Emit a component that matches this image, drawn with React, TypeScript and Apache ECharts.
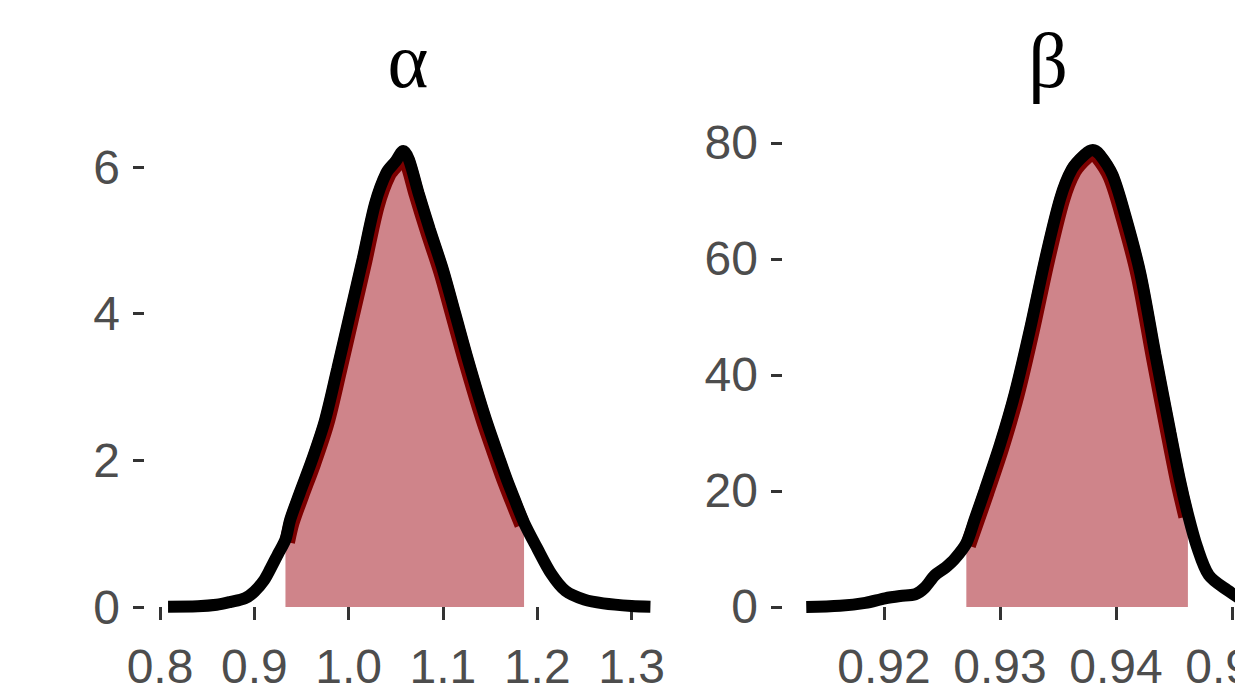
import React, { useEffect, useRef } from "react";
import * as echarts from "echarts";

// α posterior density (x, density)
const alphaX = [0.8085, 0.84, 0.86, 0.875, 0.89, 0.9, 0.91, 0.917, 0.925, 0.933, 0.938, 0.948, 0.961, 0.975, 0.988, 1.0015, 1.015, 1.028, 1.04, 1.05, 1.058, 1.064, 1.074, 1.086, 1.1, 1.113, 1.127, 1.1445, 1.1605, 1.168, 1.175, 1.186, 1.2, 1.215, 1.23, 1.25, 1.27, 1.3, 1.32];
const alphaY = [0.005, 0.01, 0.03, 0.07, 0.12, 0.21, 0.36, 0.52, 0.72, 0.92, 1.19, 1.55, 2.0, 2.55, 3.25, 4.0, 4.75, 5.5, 5.92, 6.08, 6.22, 6.1, 5.65, 5.15, 4.6, 4.0, 3.35, 2.6, 2.0, 1.73, 1.5, 1.15, 0.8, 0.45, 0.22, 0.1, 0.05, 0.015, 0.005];
const alphaInterval = [0.933, 1.186];

// β posterior density (x, density)
const betaX = [0.9133, 0.9162, 0.9184, 0.9201, 0.9214, 0.9227, 0.9235, 0.9244, 0.9253, 0.9261, 0.9271, 0.9278, 0.9287, 0.93, 0.9313, 0.9326, 0.9339, 0.9352, 0.9362, 0.9373, 0.938, 0.9386, 0.9397, 0.9408, 0.9421, 0.9434, 0.9447, 0.9455, 0.9462, 0.947, 0.948, 0.9496, 0.951, 0.953, 0.955];
const betaY = [0, 0.2, 0.7, 1.5, 1.9, 2.2, 3.3, 5.5, 6.8, 8.3, 11, 15, 20.2, 28, 37, 48, 60, 70.5, 75.5, 78, 78.8, 78, 74.5, 67.5, 57.5, 43.5, 30, 22, 16, 10.3, 5.5, 2.9, 1.2, 0.4, 0.1];
const betaInterval = [0.9271, 0.9462];

const alphaXTicks = [0.8, 0.9, 1.0, 1.1, 1.2, 1.3];
const alphaYTicks = [0, 2, 4, 6];
const betaXTicks = [0.92, 0.93, 0.94, 0.95];
const betaYTicks = [0, 20, 40, 60, 80];

const titles = ["α", "β"];

const FILL = "#cf848a";
const DARK = "#7c0000";
const LABEL = "#4d4d4d";
const FONT = "Liberation Sans, Arial, sans-serif";

function pairs(xs: number[], ys: number[]) {
  return xs.map((x, i) => [x, ys[i]]);
}

function panelSeries(xs: number[], ys: number[], iv: number[], idx: number) {
  const all = pairs(xs, ys);
  const inside = all.filter((p) => p[0] >= iv[0] - 1e-9 && p[0] <= iv[1] + 1e-9);
  let peak = 0;
  inside.forEach((p, i) => {
    if (p[1] > inside[peak][1]) peak = i;
  });
  const leftHalf = inside.slice(0, peak + 1);
  const rightHalf = inside.slice(peak);
  const base = { type: "line", xAxisIndex: idx, yAxisIndex: idx, symbol: "none", smooth: 0.3, silent: true };
  return [
    { ...base, data: inside, lineStyle: { width: 0, opacity: 0 }, areaStyle: { color: FILL, opacity: 1 } },
    { ...base, data: leftHalf, lineStyle: { color: DARK, width: 11, shadowColor: DARK, shadowBlur: 0, shadowOffsetX: 4, shadowOffsetY: 3 } },
    { ...base, data: rightHalf, lineStyle: { color: DARK, width: 11, shadowColor: DARK, shadowBlur: 0, shadowOffsetX: -4, shadowOffsetY: 3 } },
    { ...base, data: all, lineStyle: { color: "#000", width: 12 } },
  ];
}

function xAxis(idx: number, min: number, max: number, ticks: number[], digits: number) {
  return {
    type: "value", gridIndex: idx, min, max,
    axisLine: { show: false }, splitLine: { show: false },
    axisTick: { show: true, length: 13, customValues: ticks, lineStyle: { color: "#333", width: 3 } },
    axisLabel: { customValues: ticks, formatter: (v: number) => v.toFixed(digits), fontSize: 48, color: LABEL, fontFamily: FONT, margin: 12, hideOverlap: false },
  };
}

function yAxis(idx: number, min: number, max: number, ticks: number[]) {
  return {
    type: "value", gridIndex: idx, min, max,
    axisLine: { show: false }, splitLine: { show: false },
    axisTick: { show: true, length: 11, customValues: ticks, lineStyle: { color: "#333", width: 3 } },
    axisLabel: { customValues: ticks, formatter: (v: number) => String(v), fontSize: 48, color: LABEL, fontFamily: FONT, margin: 24 },
  };
}

export default function App() {
  const ref = useRef<HTMLDivElement>(null);
  useEffect(() => {
    if (!ref.current) return;
    const chart = echarts.init(ref.current, null, { renderer: "svg" });
    chart.setOption({
      animation: false,
      backgroundColor: "#fff",
      grid: [
        { left: 144, top: 128, width: 530, height: 502, outerBoundsMode: "none", containLabel: false },
        { left: 782, top: 128, width: 532, height: 502, outerBoundsMode: "none", containLabel: false },
      ],
      xAxis: [
        xAxis(0, 0.783, 1.345, alphaXTicks, 1),
        xAxis(1, 0.91121, 0.95707, betaXTicks, 2),
      ],
      yAxis: [
        yAxis(0, -0.3136, 6.532, alphaYTicks),
        yAxis(1, -3.966, 82.586, betaYTicks),
      ],
      graphic: [
        { type: "text", x: 408, y: 60, style: { text: titles[0], fontSize: 78, fontFamily: "Liberation Serif, serif", fill: "#000", align: "center", verticalAlign: "middle" } },
        { type: "text", x: 1048, y: 60, style: { text: titles[1], fontSize: 78, fontFamily: "Liberation Serif, serif", fill: "#000", align: "center", verticalAlign: "middle" } },
      ],
      series: [
        ...panelSeries(alphaX, alphaY, alphaInterval, 0),
        ...panelSeries(betaX, betaY, betaInterval, 1),
      ],
    });
    return () => chart.dispose();
  }, []);
  return (
    <div style={{ position: "fixed", left: 0, top: 0, width: 1235, height: 691, overflow: "hidden", background: "#fff" }}>
      <div ref={ref} style={{ width: 1340, height: 691 }} />
    </div>
  );
}
